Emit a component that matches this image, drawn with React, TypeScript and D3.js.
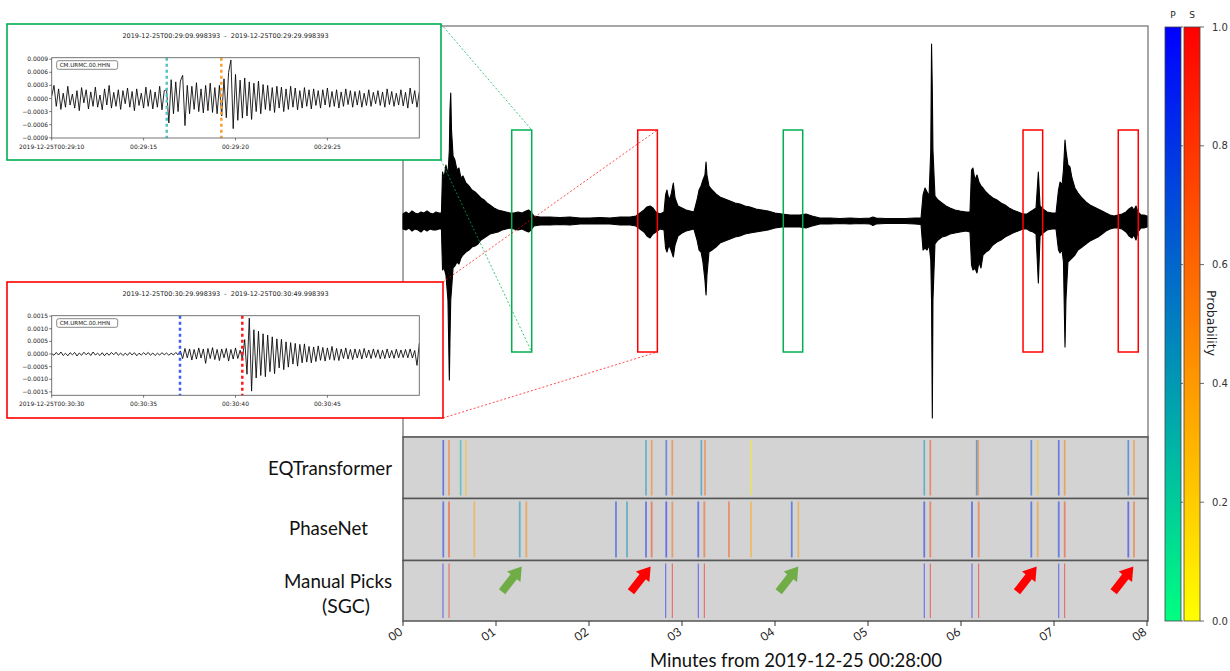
import React from "react";
import * as d3 from "d3";

const W = 1230;
const H = 671;

// ---------- x axis (minutes) ----------
const minuteTicks = [0, 1, 2, 3, 4, 5, 6, 7, 8];
const minuteTickLabels = ["00", "01", "02", "03", "04", "05", "06", "07", "08"];

// ---------- main trace envelope (seconds from 00:28:00, amplitude counts) ----------
const envTimeSec = [0, 1.9, 3.9, 5.8, 7.7, 9.7, 11.6, 13.5, 15.5, 17.4, 19.4, 21.3, 23.2, 24.8, 25.5, 26.5, 27.7, 29.0, 29.9, 30.3, 30.8, 31.3, 32.3, 33.5, 34.8, 36.1, 37.4, 38.7, 40.6, 42.6, 44.5, 46.5, 48.4, 50.3, 52.3, 54.2, 56.1, 58.7, 61.3, 63.9, 66.5, 69.0, 71.6, 74.2, 76.8, 79.4, 81.0, 82.6, 84.5, 88.4, 94.8, 101.3, 107.7, 114.2, 120.6, 127.1, 133.5, 140.0, 146.5, 150.3, 152.9, 155.5, 157.4, 159.4, 161.3, 163.2, 165.8, 168.4, 169.4, 170.3, 171.6, 172.9, 174.4, 175.5, 177.4, 180.0, 182.6, 185.2, 187.7, 189.7, 191.0, 192.3, 193.5, 194.8, 195.5, 196.1, 197.4, 199.4, 201.9, 204.5, 207.7, 211.0, 214.2, 217.4, 220.6, 223.9, 227.7, 231.6, 235.5, 240.0, 244.5, 249.7, 256.1, 260.0, 263.9, 269.0, 275.5, 281.9, 288.4, 294.8, 301.3, 303.2, 305.2, 311.0, 317.4, 323.9, 330.3, 334.2, 335.5, 336.8, 338.1, 339.4, 340.5, 341.0, 341.5, 341.9, 343.2, 345.2, 347.7, 350.3, 352.9, 356.1, 359.4, 363.2, 365.8, 366.8, 367.7, 369.0, 370.3, 371.6, 372.9, 374.2, 376.1, 378.1, 380.6, 383.2, 385.8, 388.4, 391.0, 393.5, 396.8, 400.0, 402.6, 404.5, 406.5, 408.4, 409.9, 411.0, 412.9, 415.5, 418.7, 421.3, 422.9, 423.9, 425.2, 426.1, 427.1, 427.7, 429.0, 430.3, 431.6, 433.5, 435.5, 438.1, 440.6, 443.2, 445.8, 448.4, 451.0, 453.5, 456.1, 458.7, 461.3, 463.9, 466.5, 468.4, 470.3, 471.6, 472.9, 474.2, 476.1, 478.1, 480.0];
const envUpper = [7, 9, 7, 10, 8, 7, 9, 8, 10, 8, 7, 9, 8, 8, 49, 43, 56, 46, 71, 111, 128, 91, 65, 61, 51, 53, 43, 45, 38, 35, 31, 29, 26, 23, 21, 18, 16, 13, 11, 10, 9, 8, 8, 9, 8, 10, 11, 9, 5, 4, 4, 3.5, 4, 3, 3, 3.5, 3, 4, 4, 5, 8, 11, 14, 15, 13, 9, 7, 9, 26, 31, 21, 26, 38, 23, 15, 13, 11, 10, 9, 21, 31, 35, 41, 46, 59, 46, 35, 31, 27, 24, 22, 20, 18, 17, 15, 14, 12, 11, 10, 8, 7, 6, 6, 7, 5, 3, 3, 2.5, 3, 2.5, 3, 4, 3, 2.5, 2.5, 2.5, 3, 3, 26, 33, 29, 25, 71, 177, 131, 71, 25, 21, 18, 15, 13, 11, 10, 9, 9, 51, 53, 41, 46, 39, 35, 33, 29, 26, 23, 21, 18, 16, 13, 11, 9, 7, 7, 9, 11, 13, 49, 15, 12, 9, 8, 8, 31, 39, 36, 51, 81, 71, 56, 54, 43, 33, 28, 23, 19, 16, 14, 12, 10, 8, 6, 5, 6, 7, 9, 12, 14, 11, 15, 9, 6, 6, 5];
const envLower = [-8, -9, -7, -10, -8, -9, -11, -8, -10, -8, -9, -9, -8, -8, -49, -47, -54, -79, -159, -119, -79, -69, -47, -45, -41, -43, -37, -34, -31, -29, -26, -25, -23, -19, -17, -15, -13, -12, -11, -9, -8, -7, -8, -9, -8, -10, -11, -9, -5, -4, -4, -3.5, -4, -3, -3, -3, -3, -4, -4, -5, -8, -11, -15, -17, -13, -11, -8, -9, -27, -31, -24, -29, -36, -24, -15, -12, -10, -9, -8, -19, -29, -31, -41, -59, -74, -54, -31, -29, -26, -22, -20, -18, -16, -15, -13, -12, -11, -10, -9, -7, -6, -6, -6, -7, -5, -3, -3, -2.5, -3, -2.5, -3, -4.5, -3, -2.5, -2.5, -2.5, -3, -3.5, -29, -27, -29, -24, -39, -79, -197, -79, -23, -19, -16, -15, -13, -12, -11, -10, -11, -44, -49, -47, -52, -41, -47, -34, -31, -29, -24, -21, -19, -16, -14, -12, -10, -8, -8, -10, -11, -13, -62, -15, -12, -9, -8, -8, -29, -32, -29, -41, -126, -79, -41, -39, -37, -34, -29, -26, -23, -20, -18, -16, -13, -10, -8, -7, -7, -8, -11, -15, -17, -14, -19, -11, -7, -7, -6];

// ---------- picks (minutes, probability) ----------
const eqtPTimes = [0.433, 0.62, 2.613, 2.831, 3.208, 5.605, 6.169, 6.756, 7.051, 7.799];
const eqtPProb = [0.9, 0.3, 0.45, 0.75, 0.5, 0.45, 0.6, 0.7, 0.85, 0.7];
const eqtSTimes = [0.495, 0.677, 2.674, 2.896, 3.247, 3.742, 5.67, 6.186, 6.825, 7.115, 7.86];
const eqtSProb = [0.6, 0.25, 0.55, 0.6, 0.6, 0.05, 0.75, 0.55, 0.25, 0.55, 0.5];

const pnPTimes = [0.433, 1.255, 2.29, 2.409, 2.613, 2.831, 3.175, 4.18, 5.605, 6.118, 6.756, 7.051, 7.799];
const pnPProb = [0.85, 0.45, 0.8, 0.45, 0.85, 0.95, 0.9, 0.8, 0.9, 0.9, 0.85, 0.85, 0.95];
const pnSTimes = [0.495, 0.767, 1.326, 2.674, 2.896, 3.24, 3.505, 3.742, 4.251, 5.67, 6.19, 6.825, 7.115, 7.86];
const pnSProb = [0.8, 0.35, 0.5, 0.8, 0.6, 0.7, 0.7, 0.35, 0.4, 0.75, 0.7, 0.45, 0.8, 0.65];

const manualPTimes = [0.43, 2.825, 3.175, 5.605, 6.118, 7.051];
const manualSTimes = [0.495, 2.896, 3.24, 5.67, 6.19, 7.115];

// ---------- annotations ----------
const arrowTipTimes = [1.277, 2.663, 4.251, 6.814, 7.853];
const arrowColors = ["#70ad47", "#ff0000", "#70ad47", "#ff0000", "#ff0000"];

const zoomBoxT0 = [1.169, 2.524, 4.089, 6.667, 7.691];
const zoomBoxT1 = [1.384, 2.735, 4.298, 6.878, 7.906];
const zoomBoxColors = ["#00b050", "#ff0000", "#00b050", "#ff0000", "#ff0000"];
const zoomBoxAmp = [-131, 91];

// ---------- insets (values in 1e-5, every 0.125 s) ----------
const greenInsetValues = [5, 30, -18, 22, -25, 12, -20, 28, -15, 10, -22, 18, -28, 25, -10, 20, -24, 15, -18, 26, -20, 8, -26, 22, -15, 30, -22, 14, -18, 20, -25, 18, -12, 24, -20, 16, -28, 22, -16, 12, -22, 26, -18, 20, -24, 15, -20, 28, -26, 18, 20, -56, 43, -35, 38, -30, 40, 53, -62, 30, -35, 28, -25, 36, -30, 22, -33, 30, -28, 35, -32, 25, -35, 30, -40, 45, -44, 60, 88, -69, 55, -50, 42, -45, 47, -40, 38, -48, 35, -30, 40, -35, 32, -25, 30, -28, 25, -32, 28, -22, 26, -30, 22, -25, 28, -20, 24, -26, 18, -22, 25, -18, 20, -24, 22, -16, 18, -22, 20, -15, 24, -20, 16, -18, 20, -22, 15, -18, 22, -14, 18, -20, 16, -15, 18, -20, 12, -16, 20, -18, 14, -12, 18, -16, 15, -20, 22, -14, 16, -18, 12, -15, 20, -17, 14, -22, 24, -12, 18, -20, 15];
const redInsetValues = [2, -5, 6, -4, 8, -6, 3, -7, 5, -3, 6, -8, 4, -5, 7, -3, 5, -6, 8, -4, 3, -6, 5, -7, 4, -5, 6, -3, 7, -5, 4, -6, 3, -5, 6, -4, 5, -7, 3, -4, 5, -3, 6, -5, 4, -6, 3, -4, 5, -3, 4, -5, 3, -4, 6, -3, 12, -18, 22, -15, 20, -24, 18, -20, 24, -16, 20, -37, 22, -18, 25, -22, 18, -26, 20, -15, 22, -28, 18, -20, 24, -18, 15, -20, 57, -80, 142, -147, 96, -95, 90, -85, 80, -90, 75, -70, 68, -78, 60, -55, 58, -62, 48, -52, 45, -40, 42, -48, 38, -35, 40, -32, 30, -35, 28, -30, 32, -25, 26, -28, 24, -22, 30, -25, 22, -26, 20, -18, 24, -20, 18, -22, 20, -16, 18, -20, 22, -15, 16, -18, 20, -14, 17, -19, 15, -18, 20, -16, 14, -17, 19, -15, 16, -14, 18, -15, 20, -16, 14, -45, 43];

const greenYTicks = [0.0009, 0.0006, 0.0003, 0, -0.0003, -0.0006, -0.0009];
const greenYTickLabels = ["0.0009", "0.0006", "0.0003", "0.0000", "\u22120.0003", "\u22120.0006", "\u22120.0009"];
const redYTicks = [0.0015, 0.001, 0.0005, 0, -0.0005, -0.001, -0.0015];
const redYTickLabels = ["0.0015", "0.0010", "0.0005", "0.0000", "\u22120.0005", "\u22120.0010", "\u22120.0015"];
const insetXTicks = [0, 5, 10, 15];
const greenXTickLabels = ["2019-12-25T00:29:10", "00:29:15", "00:29:20", "00:29:25"];
const redXTickLabels = ["2019-12-25T00:30:30", "00:30:35", "00:30:40", "00:30:45"];
const greenPickSec = [6.26, 9.23];
const greenPickColors = ["#56c2c6", "#f5a033"];
const redPickSec = [6.98, 10.37];
const redPickColors = ["#3d5cff", "#ff1a1a"];

const cbTicks = [0, 0.2, 0.4, 0.6, 0.8, 1.0];
const cbTickLabels = ["0.0", "0.2", "0.4", "0.6", "0.8", "1.0"];

// ---------- layout ----------
const X0 = 403, X1 = 1147;
const MAIN_T = 26, MAIN_B = 437;
const EQT_T = 437, PN_T = 498.5, MAN_T = 560.5, MAN_B = 621;

const xScale = d3.scaleLinear().domain([0, 8]).range([X0, X1]);
const mainY = d3.scaleLinear().domain([-216, 195]).range([MAIN_B, MAIN_T]);
const pColor = d3.interpolateRgb("#00ff80", "#0000ff");
const sColor = d3.interpolateRgb("#ffff00", "#ff0000");

const SANS = "DejaVu Sans, sans-serif";
const LABEL = "Lato, 'Open Sans', sans-serif";
const SP = "\u00a0";

function Inset(props: any) {
  const { bx, by, bw, bh, color, title, ax0, ax1, ay0, ay1, yDomain, yTicks, yTickLabels, xTickLabels, values, pickSec, pickColors } = props;
  const x = d3.scaleLinear().domain([0, 20]).range([ax0, ax1]);
  const y = d3.scaleLinear().domain(yDomain).range([ay1, ay0]);
  const line = d3.line<number>().x((_d, i) => x(i * 0.125)).y((d) => y(d * 1e-5));
  const clipId = "clip" + Math.round(by);
  return (
    <g>
      <rect x={bx} y={by} width={bw} height={bh} fill="white" stroke={color} strokeWidth={1.6} />
      <text x={(ax0 + ax1) / 2 - 10} y={ay0 - 19.5} fontSize={6.5} fontFamily={SANS} textAnchor="middle" fill="#222">{title}</text>
      <defs>
        <clipPath id={clipId}><rect x={ax0} y={ay0} width={ax1 - ax0} height={ay1 - ay0} /></clipPath>
      </defs>
      <g clipPath={`url(#${clipId})`}>
        <path d={line(values) || ""} fill="none" stroke="black" strokeWidth={0.85} />
      </g>
      {pickSec.map((t: number, i: number) => (
        <line key={i} x1={x(t)} x2={x(t)} y1={ay0} y2={ay1} stroke={pickColors[i]} strokeWidth={2.5} strokeDasharray="3,3" />
      ))}
      <rect x={ax0} y={ay0} width={ax1 - ax0} height={ay1 - ay0} fill="none" stroke="#666" strokeWidth={0.9} />
      <rect x={ax0 + 5} y={ay0 + 3} width={61} height={8.6} rx={2} fill="white" stroke="#555" strokeWidth={0.7} />
      <text x={ax0 + 8} y={ay0 + 9.6} fontSize={5.6} fontFamily={SANS} fill="#222">CM.URMC.00.HHN</text>
      {yTicks.map((v: number, i: number) => (
        <g key={i}>
          <line x1={ax0 - 2.5} x2={ax0} y1={y(v)} y2={y(v)} stroke="#444" strokeWidth={0.7} />
          <text x={ax0 - 3.5} y={y(v)} dy="0.35em" fontSize={6} fontFamily={SANS} textAnchor="end" fill="#222">{yTickLabels[i]}</text>
        </g>
      ))}
      {insetXTicks.map((v: number, i: number) => (
        <g key={i}>
          <line x1={x(v)} x2={x(v)} y1={ay1} y2={ay1 + 2.5} stroke="#444" strokeWidth={0.7} />
          <text x={x(v)} y={ay1 + 11} fontSize={6} fontFamily={SANS} textAnchor="middle" fill="#222">{xTickLabels[i]}</text>
        </g>
      ))}
    </g>
  );
}

function Arrow({ tipX, tipY, color }: { tipX: number; tipY: number; color: string }) {
  const L = 32;
  const pts = [[-L, -4], [-13, -4], [-13, -8.5], [0, 0], [-13, 8.5], [-13, 4], [-L, 4]].map((p) => p.join(",")).join(" ");
  return <polygon points={pts} fill={color} transform={`translate(${tipX},${tipY}) rotate(-52)`} />;
}

export default function App() {
  const area = d3
    .area<number>()
    .x((_d, i) => xScale(envTimeSec[i] / 60))
    .y0((_d, i) => mainY(envLower[i]))
    .y1((d) => mainY(d));

  const pickLines = (times: number[], probs: number[] | null, cmap: any, top: number, bottom: number, width: number, opacity: number, fixed?: string) =>
    times.map((t, i) => (
      <line
        key={`${top}-${t}-${i}`}
        x1={xScale(t)}
        x2={xScale(t)}
        y1={top + 3}
        y2={bottom - 3}
        stroke={fixed ? fixed : cmap(probs![i])}
        strokeWidth={width}
        strokeOpacity={opacity}
      />
    ));

  const cbY = d3.scaleLinear().domain([0, 1]).range([621, 27]);

  const rectTopRight = (k: number) => [xScale(zoomBoxT1[k]), mainY(zoomBoxAmp[1])];
  const rectBotRight = (k: number) => [xScale(zoomBoxT1[k]), mainY(zoomBoxAmp[0])];

  return (
    <svg width={W} height={H} style={{ position: "absolute", left: 0, top: 0, background: "white" }}>
      <defs>
        <linearGradient id="gP" x1="0" y1="1" x2="0" y2="0">
          <stop offset="0" stopColor="#00ff80" />
          <stop offset="1" stopColor="#0000ff" />
        </linearGradient>
        <linearGradient id="gS" x1="0" y1="1" x2="0" y2="0">
          <stop offset="0" stopColor="#ffff00" />
          <stop offset="1" stopColor="#ff0000" />
        </linearGradient>
      </defs>
      <rect x={0} y={0} width={W} height={H} fill="white" />

      {/* main panel */}
      <rect x={X0} y={MAIN_T} width={X1 - X0 + 1} height={MAIN_B - MAIN_T} fill="white" stroke="#8a8a8a" strokeWidth={1.5} />
      <path d={area(envUpper) || ""} fill="black" stroke="black" strokeWidth={1.1} strokeLinejoin="round" />

      {zoomBoxT0.map((t0, k) => (
        <rect
          key={k}
          x={xScale(t0)}
          y={mainY(zoomBoxAmp[1])}
          width={xScale(zoomBoxT1[k]) - xScale(t0)}
          height={mainY(zoomBoxAmp[0]) - mainY(zoomBoxAmp[1])}
          fill="none"
          stroke={zoomBoxColors[k]}
          strokeWidth={1.5}
        />
      ))}

      {/* connectors */}
      <line x1={441} y1={24} x2={rectTopRight(0)[0]} y2={rectTopRight(0)[1]} stroke="#00b050" strokeWidth={1} strokeDasharray="2,2" strokeOpacity={0.75} />
      <line x1={441} y1={160} x2={rectBotRight(0)[0]} y2={rectBotRight(0)[1]} stroke="#00b050" strokeWidth={1} strokeDasharray="2,2" strokeOpacity={0.75} />
      <line x1={443} y1={282} x2={rectTopRight(1)[0]} y2={rectTopRight(1)[1]} stroke="#ff0000" strokeWidth={1} strokeDasharray="2,2" strokeOpacity={0.7} />
      <line x1={443} y1={418} x2={rectBotRight(1)[0]} y2={rectBotRight(1)[1]} stroke="#ff0000" strokeWidth={1} strokeDasharray="2,2" strokeOpacity={0.7} />

      {/* pick panels */}
      <rect x={X0} y={EQT_T} width={X1 - X0 + 1} height={PN_T - EQT_T} fill="#d3d3d3" stroke="#555" strokeWidth={1.5} />
      <rect x={X0} y={PN_T} width={X1 - X0 + 1} height={MAN_T - PN_T} fill="#d3d3d3" stroke="#555" strokeWidth={1.5} />
      <rect x={X0} y={MAN_T} width={X1 - X0 + 1} height={MAN_B - MAN_T} fill="#d3d3d3" stroke="#555" strokeWidth={1.5} />

      {pickLines(eqtPTimes, eqtPProb, pColor, EQT_T, PN_T, 1.7, 0.5)}
      {pickLines(eqtSTimes, eqtSProb, sColor, EQT_T, PN_T, 1.7, 0.5)}
      {pickLines(pnPTimes, pnPProb, pColor, PN_T, MAN_T, 1.8, 0.5)}
      {pickLines(pnSTimes, pnSProb, sColor, PN_T, MAN_T, 1.8, 0.5)}
      {pickLines(manualPTimes, null, null, MAN_T, MAN_B, 1, 0.55, "#0000ff")}
      {pickLines(manualSTimes, null, null, MAN_T, MAN_B, 1, 0.55, "#ff0000")}

      {arrowTipTimes.map((t, i) => (
        <Arrow key={i} tipX={xScale(t)} tipY={566.5} color={arrowColors[i]} />
      ))}

      {/* x axis */}
      {minuteTicks.map((m, i) => (
        <g key={m}>
          <line x1={xScale(m)} x2={xScale(m)} y1={MAN_B} y2={MAN_B + 5} stroke="#333" strokeWidth={1} />
          <text
            x={xScale(m) - 5}
            y={MAN_B + 5}
            fontSize={12}
            fontFamily={LABEL}
            fill="#222"
            textAnchor="end"
            dominantBaseline="hanging"
            transform={`rotate(-35, ${xScale(m) - 5}, ${MAN_B + 5})`}
          >
            {minuteTickLabels[i]}
          </text>
        </g>
      ))}
      <text x={796} y={667} fontSize={20} fontFamily={LABEL} fill="#111" textAnchor="middle" textLength={292} lengthAdjust="spacingAndGlyphs">
        Minutes from 2019-12-25 00:28:00
      </text>

      {/* row labels */}
      <text x={330} y={467} fontSize={19} fontFamily={LABEL} fill="#111" textAnchor="middle" dominantBaseline="central" textLength={124} lengthAdjust="spacingAndGlyphs">EQTransformer</text>
      <text x={328.5} y={527} fontSize={19} fontFamily={LABEL} fill="#111" textAnchor="middle" dominantBaseline="central" textLength={79} lengthAdjust="spacingAndGlyphs">PhaseNet</text>
      <text x={338} y={580} fontSize={19} fontFamily={LABEL} fill="#111" textAnchor="middle" dominantBaseline="central" textLength={108} lengthAdjust="spacingAndGlyphs">Manual Picks</text>
      <text x={346} y={605} fontSize={19} fontFamily={LABEL} fill="#111" textAnchor="middle" dominantBaseline="central" textLength={48} lengthAdjust="spacingAndGlyphs">(SGC)</text>

      {/* insets */}
      <Inset
        bx={7} by={24} bw={434} bh={136} color="#00b050"
        title={`2019-12-25T00:29:09.998393${SP}${SP}-${SP}${SP}2019-12-25T00:29:29.998393`}
        ax0={51.7} ax1={419.3} ay0={57.7} ay1={138}
        yDomain={[-0.000905, 0.000934]}
        yTicks={greenYTicks} yTickLabels={greenYTickLabels} xTickLabels={greenXTickLabels}
        values={greenInsetValues} pickSec={greenPickSec} pickColors={greenPickColors}
      />
      <Inset
        bx={7} by={282} bw={436} bh={136} color="#ff0000"
        title={`2019-12-25T00:30:29.998393${SP}${SP}-${SP}${SP}2019-12-25T00:30:49.998393`}
        ax0={51.7} ax1={419.3} ay0={315.7} ay1={395.3}
        yDomain={[-0.001635, 0.001516]}
        yTicks={redYTicks} yTickLabels={redYTickLabels} xTickLabels={redXTickLabels}
        values={redInsetValues} pickSec={redPickSec} pickColors={redPickColors}
      />

      {/* colorbar */}
      <rect x={1165} y={27} width={16} height={594} fill="url(#gP)" stroke="#444" strokeWidth={0.8} />
      <rect x={1184} y={27} width={16} height={594} fill="url(#gS)" stroke="#444" strokeWidth={0.8} />
      <text x={1173} y={18} fontSize={9} fontFamily={SANS} textAnchor="middle" fill="#222">P</text>
      <text x={1192} y={18} fontSize={9} fontFamily={SANS} textAnchor="middle" fill="#222">S</text>
      {cbTicks.map((v, i) => (
        <g key={v}>
          <line x1={1181} x2={1183} y1={cbY(v)} y2={cbY(v)} stroke="#444" strokeWidth={0.8} />
          <line x1={1200} x2={1204} y1={cbY(v)} y2={cbY(v)} stroke="#444" strokeWidth={0.8} />
          <text x={1212} y={cbY(v)} dy="0.35em" fontSize={10} fontFamily={SANS} fill="#333">{cbTickLabels[i]}</text>
        </g>
      ))}
      <text x={1207} y={323} fontSize={12.5} fontFamily={SANS} fill="#222" textAnchor="middle" transform="rotate(90, 1207, 323)">Probability</text>
    </svg>
  );
}
